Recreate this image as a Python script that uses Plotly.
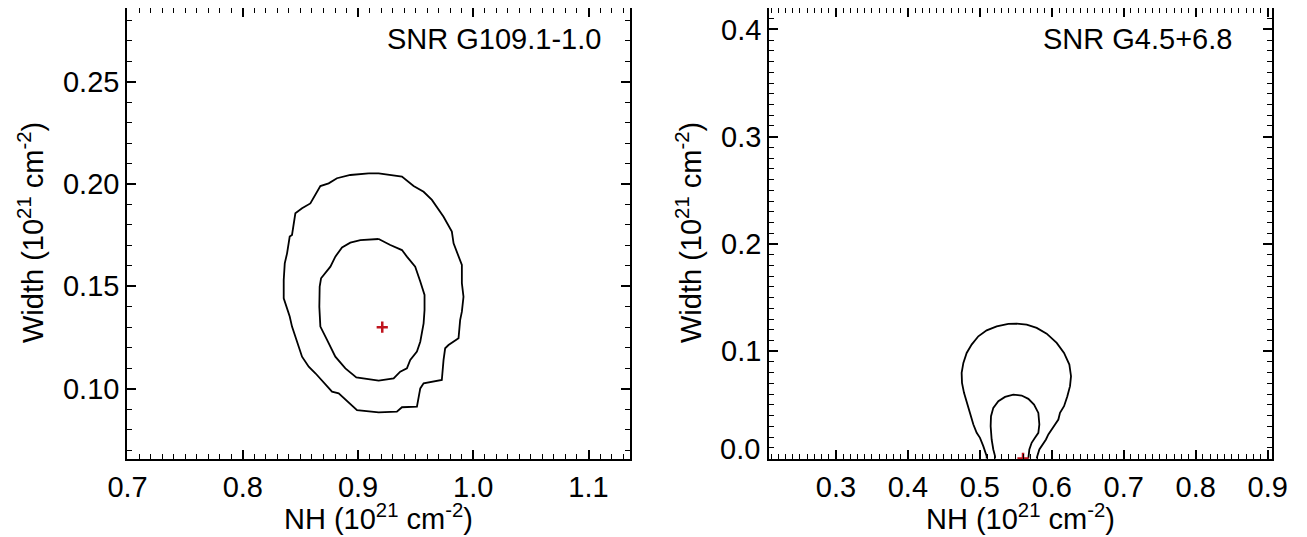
import plotly.graph_objects as go

# ---- Left panel: SNR G109.1-1.0 ----
left_outer_nh = [0.9092, 0.9179, 0.9381, 0.9482, 0.9569, 0.9641, 0.9742, 0.9814, 0.9829, 0.9857,
                 0.9901, 0.9901, 0.9915, 0.9901, 0.9886, 0.9872, 0.9785, 0.9756, 0.9742, 0.9727,
                 0.9569, 0.9540, 0.9511, 0.9381, 0.9337, 0.9179, 0.8991, 0.8832, 0.8774, 0.8630,
                 0.8572, 0.8514, 0.8485, 0.8427, 0.8407, 0.8370, 0.8355, 0.8355, 0.8364, 0.8384,
                 0.8407, 0.8427, 0.8456, 0.8514, 0.8586, 0.8673, 0.8745, 0.8817, 0.8933, 0.9092]
left_outer_w = [0.2052, 0.2052, 0.2036, 0.1990, 0.1962, 0.1922, 0.1840, 0.1767, 0.1710, 0.1669,
                0.1604, 0.1515, 0.1449, 0.1376, 0.1335, 0.1246, 0.1213, 0.1197, 0.1140, 0.1042,
                0.1026, 0.1001, 0.0912, 0.0909, 0.0887, 0.0884, 0.0895, 0.0977, 0.0985, 0.1075,
                0.1107, 0.1156, 0.1205, 0.1303, 0.1352, 0.1417, 0.1441, 0.1531, 0.1612, 0.1661,
                0.1743, 0.1751, 0.1857, 0.1881, 0.1905, 0.1990, 0.2003, 0.2028, 0.2044, 0.2052]

left_inner_nh = [0.9179, 0.9020, 0.8933, 0.8861, 0.8803, 0.8760, 0.8679, 0.8667, 0.8664, 0.8673,
                 0.8731, 0.8803, 0.8890, 0.8985, 0.9179, 0.9309, 0.9366, 0.9424, 0.9453, 0.9511,
                 0.9540, 0.9569, 0.9577, 0.9577, 0.9540, 0.9496, 0.9424, 0.9381, 0.9280, 0.9179]
left_inner_w = [0.1731, 0.1726, 0.1713, 0.1690, 0.1645, 0.1596, 0.1539, 0.1498, 0.1400, 0.1303,
                0.1238, 0.1156, 0.1099, 0.1055, 0.1039, 0.1050, 0.1083, 0.1099, 0.1140, 0.1181,
                0.1229, 0.1319, 0.1384, 0.1458, 0.1523, 0.1596, 0.1645, 0.1677, 0.1702, 0.1731]

left_best_nh = [0.921]
left_best_w = [0.130]

# ---- Right panel: SNR G4.5+6.8 ----
right_outer_nh = [0.5095, 0.5095, 0.5048, 0.5002, 0.4956, 0.4910, 0.4863, 0.4817, 0.4780, 0.4752,
                  0.4747, 0.4771, 0.4817, 0.4886, 0.4979, 0.5095, 0.5234, 0.5396, 0.5512, 0.5651,
                  0.5790, 0.5929, 0.6068, 0.6170, 0.6244, 0.6267, 0.6253, 0.6216, 0.6170, 0.6114,
                  0.6091, 0.6045, 0.5998, 0.5952, 0.5919, 0.5873, 0.5827, 0.5799, 0.5790]
right_outer_w = [0.0000, 0.0022, 0.0115, 0.0192, 0.0239, 0.0317, 0.0425, 0.0518, 0.0612, 0.0705,
                 0.0798, 0.0891, 0.0984, 0.1062, 0.1139, 0.1195, 0.1232, 0.1254, 0.1257, 0.1248,
                 0.1217, 0.1164, 0.1077, 0.0984, 0.0875, 0.0767, 0.0674, 0.0580, 0.0487, 0.0425,
                 0.0363, 0.0317, 0.0270, 0.0224, 0.0177, 0.0130, 0.0084, 0.0022, 0.0000]

right_inner_nh = [0.5211, 0.5211, 0.5187, 0.5164, 0.5150, 0.5155, 0.5187, 0.5257, 0.5350, 0.5465,
                  0.5581, 0.5674, 0.5753, 0.5813, 0.5827, 0.5813, 0.5766, 0.5720, 0.5688, 0.5674,
                  0.5674]
right_inner_w = [0.0000, 0.0022, 0.0084, 0.0177, 0.0301, 0.0394, 0.0472, 0.0534, 0.0574, 0.0596,
                 0.0587, 0.0556, 0.0503, 0.0425, 0.0317, 0.0239, 0.0192, 0.0146, 0.0084, 0.0022,
                 0.0000]

right_best_nh = [0.560]
right_best_w = [0.0]

left_xticks = [0.7, 0.8, 0.9, 1.0, 1.1]
left_yticks = [0.10, 0.15, 0.20, 0.25]
right_xticks = [0.3, 0.4, 0.5, 0.6, 0.7, 0.8, 0.9]
right_yticks = [0.0, 0.1, 0.2, 0.3, 0.4]

labels = ["SNR G109.1-1.0", "SNR G4.5+6.8"]
x_title = "NH (10<sup>21</sup> cm<sup>-2</sup>)"
y_title = "Width (10<sup>21</sup> cm<sup>-2</sup>)"

# page body has an 8px margin: the figure is drawn from (8, 8) in the window
OFF = 8
W, H = 1307 - OFF, 537 - OFF
FONT = "Liberation Sans, Arial, Helvetica, sans-serif"
FS = 29
RED = "#c0141e"

fig = go.Figure()
line = dict(color="black", width=1.8)
fig.add_trace(go.Scatter(x=left_outer_nh, y=left_outer_w, mode="lines", line=line, xaxis="x", yaxis="y"))
fig.add_trace(go.Scatter(x=left_inner_nh, y=left_inner_w, mode="lines", line=line, xaxis="x", yaxis="y"))
fig.add_trace(go.Scatter(x=left_best_nh, y=left_best_w, mode="markers", xaxis="x", yaxis="y",
                         marker=dict(symbol="cross-thin", size=8, line=dict(color=RED, width=2.5))))
fig.add_trace(go.Scatter(x=right_outer_nh, y=right_outer_w, mode="lines", line=line, xaxis="x2", yaxis="y2"))
fig.add_trace(go.Scatter(x=right_inner_nh, y=right_inner_w, mode="lines", line=line, xaxis="x2", yaxis="y2"))
fig.add_trace(go.Scatter(x=right_best_nh, y=right_best_w, mode="markers", xaxis="x2", yaxis="y2",
                         marker=dict(symbol="cross-thin", size=8, line=dict(color=RED, width=2.5))))

def px_x(p):
    return (p - OFF) / W

def px_y(p):
    return 1 - (p - OFF) / H

ydom = [px_y(459), px_y(8)]
common = dict(showline=True, linecolor="black", linewidth=1.5, mirror="allticks", ticks="inside",
              ticklen=9, tickwidth=1.5, tickcolor="black", showgrid=False, zeroline=False,
              tickfont=dict(family=FONT, size=FS, color="black"), automargin=False,
              minor=dict(dtick=0.01, ticks="inside", ticklen=5, tickwidth=1.2, tickcolor="black", showgrid=False))

# the reference lifts the bottom "0.0" label slightly above the axis; draw it separately
right_ytext = ["" if v == 0 else f"{v:.1f}" for v in right_yticks]

fig.update_layout(
    width=W, height=H, margin=dict(l=0, r=0, t=0, b=0),
    paper_bgcolor="white", plot_bgcolor="white", showlegend=False,
    font=dict(family=FONT, size=FS, color="black"),
    xaxis=dict(domain=[px_x(127), px_x(630)], range=[0.6995, 1.136], tickvals=left_xticks,
               ticktext=[f"{v:.1f}" for v in left_xticks], anchor="y", ticklabelstandoff=1, **common),
    yaxis=dict(domain=ydom, range=[0.0656, 0.286], tickvals=left_yticks,
               ticktext=[f"{v:.2f}" for v in left_yticks], anchor="x", ticklabelstandoff=0, **common),
    xaxis2=dict(domain=[px_x(769), px_x(1272)], range=[0.207, 0.906], tickvals=right_xticks,
                ticktext=[f"{v:.1f}" for v in right_xticks], anchor="y2", ticklabelstandoff=1, **common),
    yaxis2=dict(domain=ydom, range=[-0.0005, 0.42], tickvals=right_yticks,
                ticktext=right_ytext, anchor="x2", ticklabelstandoff=0, **common),
)

ann = []
# panel labels
ann.append(dict(x=px_x(603), y=px_y(39), xref="paper", yref="paper", text=labels[0], showarrow=False,
                xanchor="right", yanchor="middle", font=dict(family=FONT, size=FS, color="black")))
ann.append(dict(x=px_x(1234), y=px_y(39), xref="paper", yref="paper", text=labels[1], showarrow=False,
                xanchor="right", yanchor="middle", font=dict(family=FONT, size=FS, color="black")))
# lifted "0.0" tick label of the right panel
ann.append(dict(x=px_x(762), y=px_y(449), xref="paper", yref="paper", text=f"{right_yticks[0]:.1f}",
                showarrow=False, xanchor="right", yanchor="middle", xshift=0,
                font=dict(family=FONT, size=FS, color="black")))
# axis titles
for cx in [(127 + 630) / 2, (769 + 1272) / 2]:
    ann.append(dict(x=px_x(cx), y=px_y(517), xref="paper", yref="paper", text=x_title, showarrow=False,
                    xanchor="center", yanchor="middle", font=dict(family=FONT, size=FS, color="black")))
for cx in [31, 689]:
    ann.append(dict(x=px_x(cx), y=px_y(233), xref="paper", yref="paper", text=y_title, showarrow=False,
                    textangle=-90, xanchor="center", yanchor="middle",
                    font=dict(family=FONT, size=FS, color="black")))
fig.update_layout(annotations=ann)

fig.write_html("out.html")
